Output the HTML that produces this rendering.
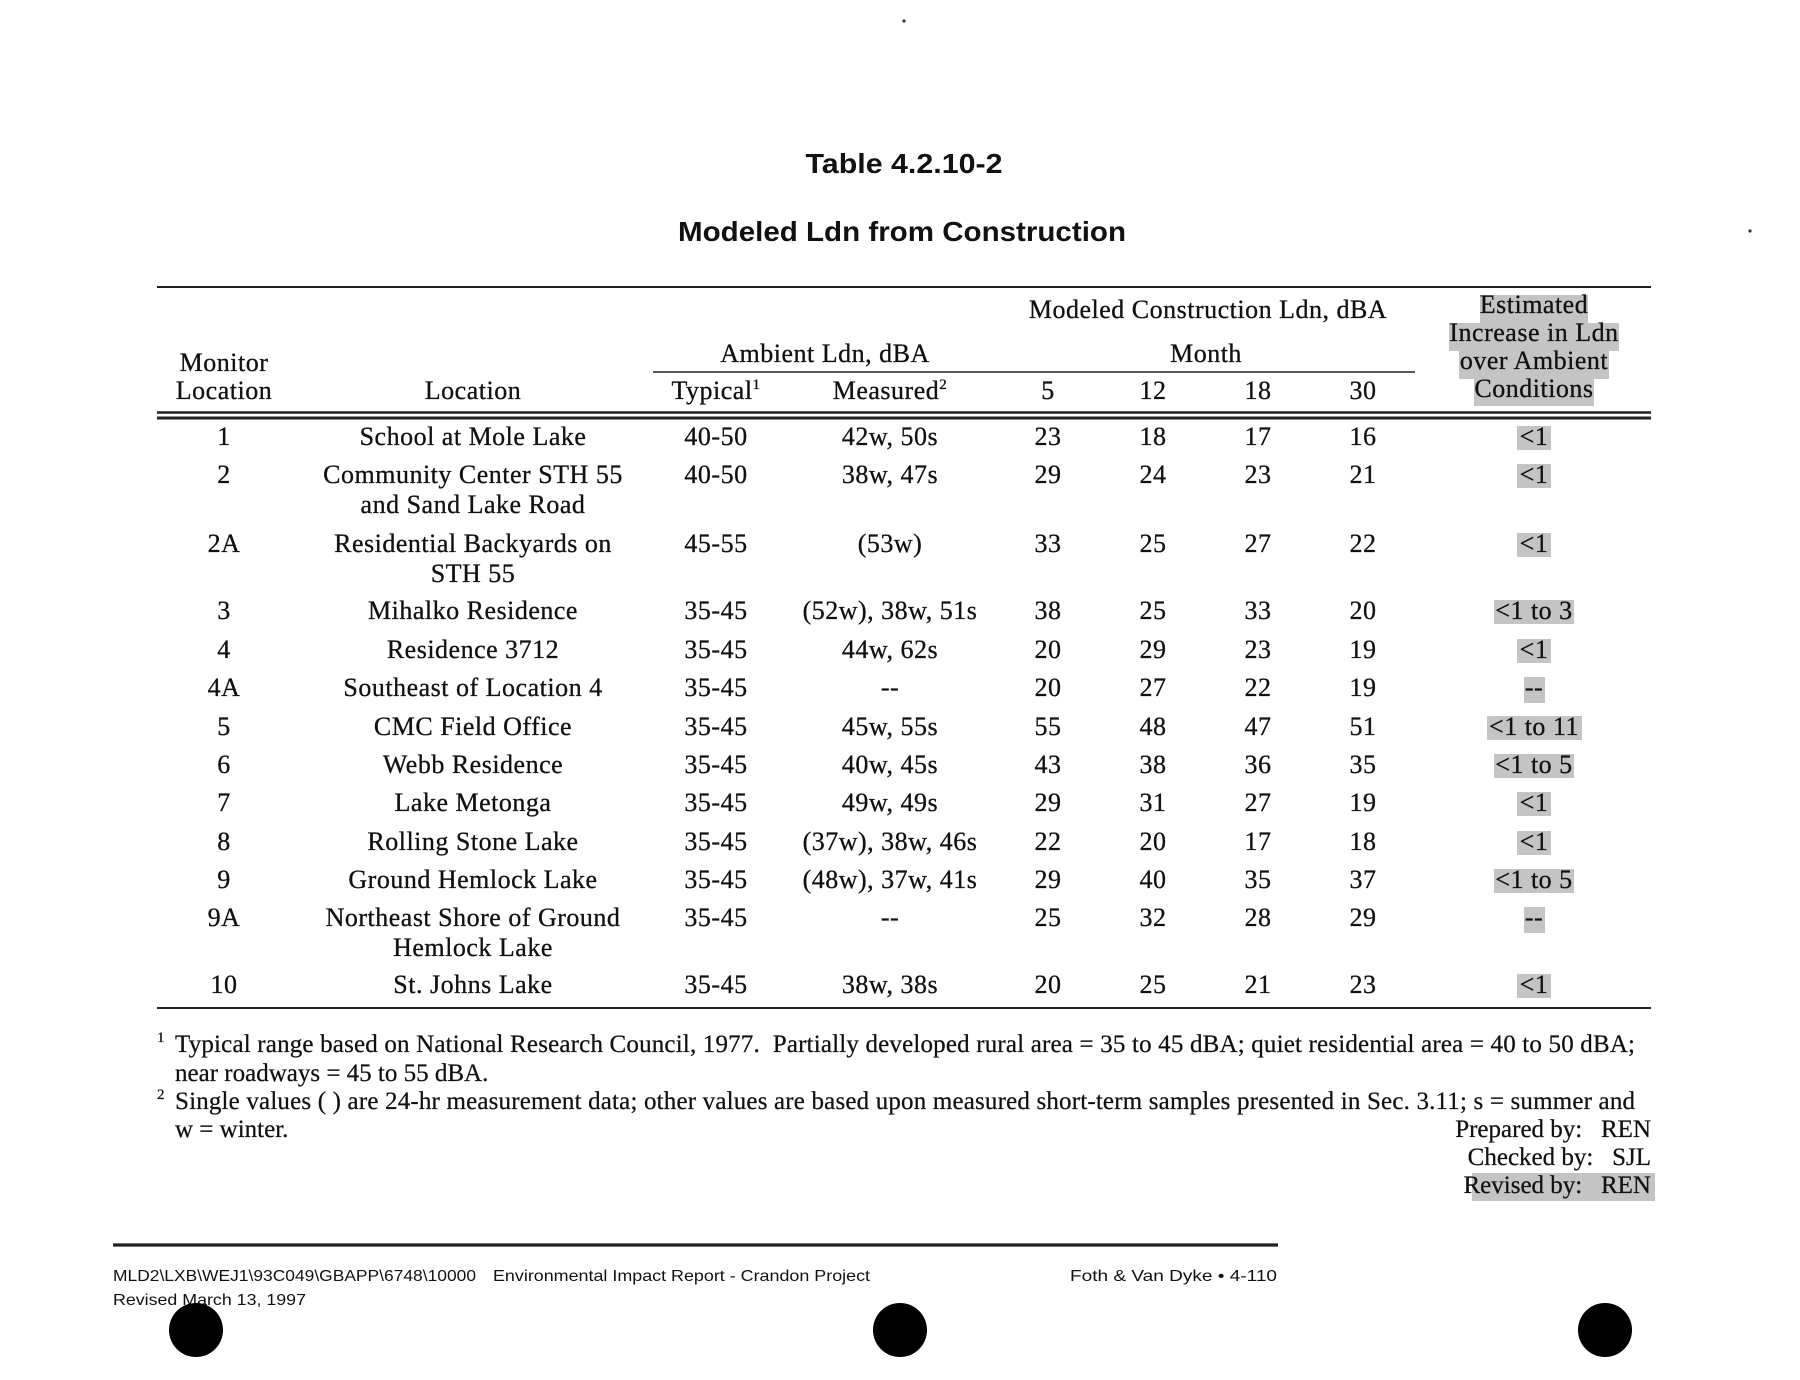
<!DOCTYPE html>
<html>
<head>
<meta charset="utf-8">
<style>
html,body{margin:0;padding:0;background:#fff;}
svg{display:block;}
</style>
</head>
<body>
<svg width="1800" height="1380" viewBox="0 0 1800 1380" xmlns="http://www.w3.org/2000/svg">
<rect width="1800" height="1380" fill="#fff"/>

<!-- specks -->
<circle cx="904" cy="21" r="1.6" fill="#333"/>
<circle cx="1750" cy="231" r="1.6" fill="#333"/>

<!-- Titles -->
<g font-family="'Liberation Sans', sans-serif" font-weight="bold" fill="#111" text-anchor="middle">
<text x="904" y="173" font-size="28" textLength="197" lengthAdjust="spacingAndGlyphs">Table 4.2.10-2</text>
<text x="902" y="241" font-size="28" textLength="448" lengthAdjust="spacingAndGlyphs">Modeled Ldn from Construction</text>
</g>

<!-- Rules -->
<g stroke="#222" fill="none">
<line x1="157" y1="287" x2="1651" y2="287" stroke-width="2"/>
<line x1="653" y1="372" x2="1415" y2="372" stroke-width="1.6"/>
<line x1="157" y1="412.5" x2="1651" y2="412.5" stroke-width="2.4"/>
<line x1="157" y1="418" x2="1651" y2="418" stroke-width="3"/>
<line x1="157" y1="1008" x2="1651" y2="1008" stroke-width="2"/>
<line x1="113" y1="1245" x2="1278" y2="1245" stroke-width="3.2"/>
</g>

<!-- Shading -->
<g fill="#c4c4c4">
<rect x="1480" y="295" width="108" height="28"/>
<rect x="1449" y="323" width="170" height="28"/>
<rect x="1459" y="351" width="150" height="28"/>
<rect x="1474" y="379" width="120" height="27"/>
<rect x="1517" y="426" width="34" height="24"/>
<rect x="1517" y="464" width="34" height="24"/>
<rect x="1517" y="533" width="34" height="24"/>
<rect x="1494" y="600" width="80" height="24"/>
<rect x="1517" y="639" width="34" height="24"/>
<rect x="1524" y="677" width="21" height="26"/>
<rect x="1487" y="716" width="95" height="24"/>
<rect x="1494" y="754" width="80" height="24"/>
<rect x="1517" y="792" width="34" height="24"/>
<rect x="1517" y="831" width="34" height="24"/>
<rect x="1494" y="869" width="80" height="24"/>
<rect x="1524" y="907" width="21" height="26"/>
<rect x="1517" y="974" width="34" height="24"/>
<rect x="1472" y="1173" width="183" height="28"/>
</g>

<!-- Header text -->
<g font-family="'Liberation Serif', serif" font-size="26" fill="#111" stroke="#111" stroke-width="0.3" text-anchor="middle" letter-spacing="0.5">
<text x="1208" y="318">Modeled Construction Ldn, dBA</text>
<text x="825" y="362">Ambient Ldn, dBA</text>
<text x="1206" y="362">Month</text>
<text x="224" y="371">Monitor</text>
<text x="224" y="399">Location</text>
<text x="473" y="399">Location</text>
<text x="716" y="399">Typical<tspan font-size="15" dy="-10">1</tspan></text>
<text x="890" y="399">Measured<tspan font-size="15" dy="-10">2</tspan></text>
<text x="1048" y="399">5</text>
<text x="1153" y="399">12</text>
<text x="1258" y="399">18</text>
<text x="1363" y="399">30</text>
<text x="1534" y="313">Estimated</text>
<text x="1534" y="341">Increase in Ldn</text>
<text x="1534" y="369">over Ambient</text>
<text x="1534" y="397">Conditions</text>
</g>

<!-- Data rows -->
<g font-family="'Liberation Serif', serif" font-size="26" fill="#111" stroke="#111" stroke-width="0.3" text-anchor="middle" letter-spacing="0.5">
<text x="224" y="445">1</text><text x="473" y="445">School at Mole Lake</text><text x="716" y="445">40-50</text><text x="890" y="445">42w, 50s</text>
<text x="1048" y="445">23</text><text x="1153" y="445">18</text><text x="1258" y="445">17</text><text x="1363" y="445">16</text><text x="1534" y="445">&lt;1</text>

<text x="224" y="483">2</text><text x="473" y="483">Community Center STH 55</text><text x="473" y="513">and Sand Lake Road</text><text x="716" y="483">40-50</text><text x="890" y="483">38w, 47s</text>
<text x="1048" y="483">29</text><text x="1153" y="483">24</text><text x="1258" y="483">23</text><text x="1363" y="483">21</text><text x="1534" y="483">&lt;1</text>

<text x="224" y="552">2A</text><text x="473" y="552">Residential Backyards on</text><text x="473" y="582">STH 55</text><text x="716" y="552">45-55</text><text x="890" y="552">(53w)</text>
<text x="1048" y="552">33</text><text x="1153" y="552">25</text><text x="1258" y="552">27</text><text x="1363" y="552">22</text><text x="1534" y="552">&lt;1</text>

<text x="224" y="619">3</text><text x="473" y="619">Mihalko Residence</text><text x="716" y="619">35-45</text><text x="890" y="619">(52w), 38w, 51s</text>
<text x="1048" y="619">38</text><text x="1153" y="619">25</text><text x="1258" y="619">33</text><text x="1363" y="619">20</text><text x="1534" y="619">&lt;1 to 3</text>

<text x="224" y="658">4</text><text x="473" y="658">Residence 3712</text><text x="716" y="658">35-45</text><text x="890" y="658">44w, 62s</text>
<text x="1048" y="658">20</text><text x="1153" y="658">29</text><text x="1258" y="658">23</text><text x="1363" y="658">19</text><text x="1534" y="658">&lt;1</text>

<text x="224" y="696">4A</text><text x="473" y="696">Southeast of Location 4</text><text x="716" y="696">35-45</text><text x="890" y="696">--</text>
<text x="1048" y="696">20</text><text x="1153" y="696">27</text><text x="1258" y="696">22</text><text x="1363" y="696">19</text><text x="1534" y="696">--</text>

<text x="224" y="735">5</text><text x="473" y="735">CMC Field Office</text><text x="716" y="735">35-45</text><text x="890" y="735">45w, 55s</text>
<text x="1048" y="735">55</text><text x="1153" y="735">48</text><text x="1258" y="735">47</text><text x="1363" y="735">51</text><text x="1534" y="735">&lt;1 to 11</text>

<text x="224" y="773">6</text><text x="473" y="773">Webb Residence</text><text x="716" y="773">35-45</text><text x="890" y="773">40w, 45s</text>
<text x="1048" y="773">43</text><text x="1153" y="773">38</text><text x="1258" y="773">36</text><text x="1363" y="773">35</text><text x="1534" y="773">&lt;1 to 5</text>

<text x="224" y="811">7</text><text x="473" y="811">Lake Metonga</text><text x="716" y="811">35-45</text><text x="890" y="811">49w, 49s</text>
<text x="1048" y="811">29</text><text x="1153" y="811">31</text><text x="1258" y="811">27</text><text x="1363" y="811">19</text><text x="1534" y="811">&lt;1</text>

<text x="224" y="850">8</text><text x="473" y="850">Rolling Stone Lake</text><text x="716" y="850">35-45</text><text x="890" y="850">(37w), 38w, 46s</text>
<text x="1048" y="850">22</text><text x="1153" y="850">20</text><text x="1258" y="850">17</text><text x="1363" y="850">18</text><text x="1534" y="850">&lt;1</text>

<text x="224" y="888">9</text><text x="473" y="888">Ground Hemlock Lake</text><text x="716" y="888">35-45</text><text x="890" y="888">(48w), 37w, 41s</text>
<text x="1048" y="888">29</text><text x="1153" y="888">40</text><text x="1258" y="888">35</text><text x="1363" y="888">37</text><text x="1534" y="888">&lt;1 to 5</text>

<text x="224" y="926">9A</text><text x="473" y="926">Northeast Shore of Ground</text><text x="473" y="956">Hemlock Lake</text><text x="716" y="926">35-45</text><text x="890" y="926">--</text>
<text x="1048" y="926">25</text><text x="1153" y="926">32</text><text x="1258" y="926">28</text><text x="1363" y="926">29</text><text x="1534" y="926">--</text>

<text x="224" y="993">10</text><text x="473" y="993">St. Johns Lake</text><text x="716" y="993">35-45</text><text x="890" y="993">38w, 38s</text>
<text x="1048" y="993">20</text><text x="1153" y="993">25</text><text x="1258" y="993">21</text><text x="1363" y="993">23</text><text x="1534" y="993">&lt;1</text>
</g>

<!-- Footnotes -->
<g font-family="'Liberation Serif', serif" font-size="25" fill="#111" stroke="#111" stroke-width="0.25">
<text x="157" y="1042" font-size="15">1</text>
<text x="175" y="1052" textLength="1460" lengthAdjust="spacing">Typical range based on National Research Council, 1977.&#160; Partially developed rural area = 35 to 45 dBA; quiet residential area = 40 to 50 dBA;</text>
<text x="175" y="1081">near roadways = 45 to 55 dBA.</text>
<text x="157" y="1099" font-size="15">2</text>
<text x="175" y="1109" textLength="1460" lengthAdjust="spacing">Single values ( ) are 24-hr measurement data; other values are based upon measured short-term samples presented in Sec. 3.11; s = summer and</text>
<text x="175" y="1137">w = winter.</text>
<g text-anchor="end">
<text x="1651" y="1137">Prepared by:&#160;&#160; REN</text>
<text x="1651" y="1165">Checked by:&#160;&#160; SJL</text>
<text x="1651" y="1193">Revised by:&#160;&#160; REN</text>
</g>
</g>

<!-- Footer -->
<g font-family="'Liberation Sans', sans-serif" font-size="16" fill="#111">
<text x="113" y="1281" textLength="363" lengthAdjust="spacingAndGlyphs">MLD2\LXB\WEJ1\93C049\GBAPP\6748\10000</text>
<text x="493" y="1281" textLength="377" lengthAdjust="spacingAndGlyphs">Environmental Impact Report - Crandon Project</text>
<text x="1070" y="1281" textLength="207" lengthAdjust="spacingAndGlyphs">Foth &amp; Van Dyke • 4-110</text>
<text x="113" y="1305" textLength="193" lengthAdjust="spacingAndGlyphs">Revised March 13, 1997</text>
</g>

<!-- Punch holes -->
<g fill="#000">
<circle cx="196" cy="1330" r="27"/>
<circle cx="900" cy="1330" r="27"/>
<circle cx="1605" cy="1330" r="27"/>
</g>
</svg>
</body>
</html>
